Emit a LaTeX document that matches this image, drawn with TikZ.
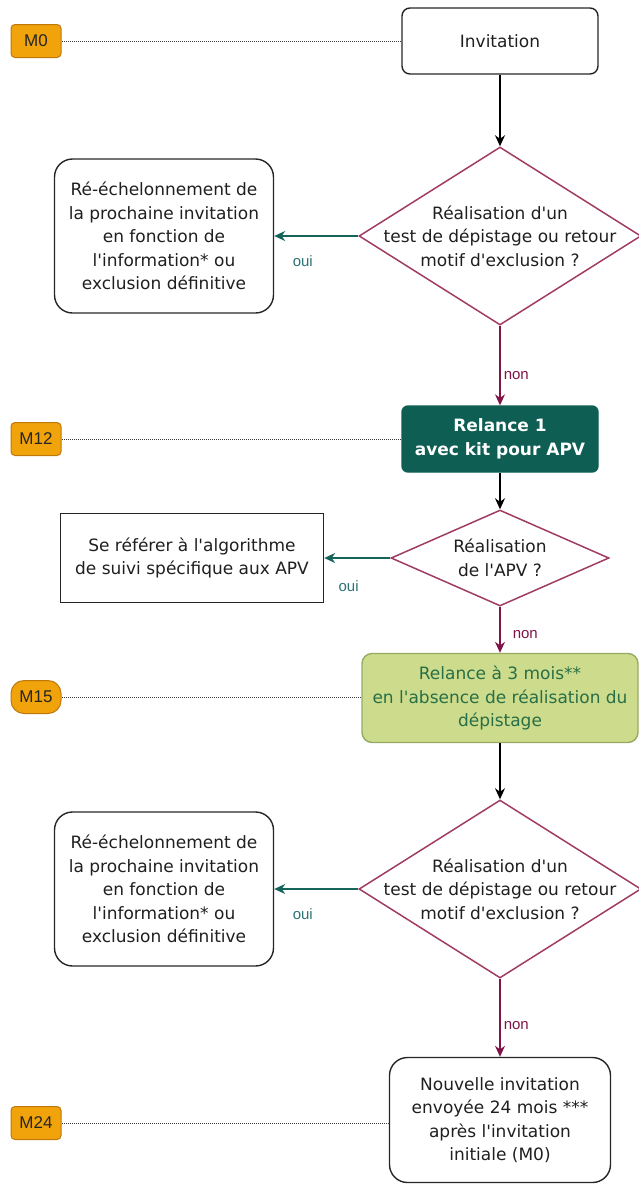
\documentclass[tikz,border=0pt]{standalone}
\usepackage{fontspec}
\setmainfont{DejaVu Sans}
\newfontfamily\tagfont{Liberation Sans}
\usetikzlibrary{shapes.geometric,arrows.meta}

\definecolor{tagfill}{RGB}{240,163,10}
\definecolor{tagline}{RGB}{190,120,10}
\definecolor{decline}{RGB}{160,60,100}
\definecolor{nonline}{RGB}{128,20,70}
\definecolor{ouiline}{RGB}{20,100,90}
\definecolor{ouitext}{RGB}{45,115,115}
\definecolor{relfill}{RGB}{14,94,84}
\definecolor{greenfill}{RGB}{205,220,140}
\definecolor{greenline}{RGB}{150,170,100}
\definecolor{greentext}{RGB}{40,110,70}

\newcommand{\ap}{\textquotesingle}

\begin{document}
\begin{tikzpicture}[x=1pt,y=-1pt,
    every node/.style={font=\fontsize{17}{23.5}\selectfont,text=black!88},
    tagbox/.style={draw=tagline,fill=tagfill,line width=1pt,rounded corners=4pt,
      minimum width=50pt,minimum height=33pt,inner sep=0pt,
      font=\tagfont\fontsize{17}{19}\selectfont,text=black!85},
    stepbox/.style={draw=black!85,line width=1.4pt,rounded corners=#1,
      align=center,inner sep=0pt},
    stepbox/.default=8pt,
    decbox/.style={diamond,draw=decline,line width=1.5pt,inner sep=0pt},
    dtext/.style={align=center,inner sep=0pt},
    timeline/.style={black!75,line width=1pt,dash pattern=on 1pt off 1pt},
    flow/.style={-{Stealth[length=11pt,width=10pt]},line width=1.5pt,black},
    nonarrow/.style={flow,nonline},
    ouiarrow/.style={flow,ouiline},
    nonlabel/.style={font=\tagfont\fontsize{15}{17}\selectfont,text=nonline,anchor=west,inner sep=0pt},
    ouilabel/.style={font=\tagfont\fontsize{15}{17}\selectfont,text=ouitext,inner sep=0pt}]

  \useasboundingbox (0,0) rectangle (638,1187);

  % time marks
  \node[tagbox] (m0) at (36,41) {M0};
  \node[tagbox] (m12) at (36,439) {M12};
  \node[tagbox,rounded corners=13pt] (m15) at (36,697) {M15};
  \node[tagbox] (m24) at (36,1123) {M24};

  % main column
  \node[stepbox,minimum width=196pt,minimum height=66pt] (inv) at (500,41) {Invitation};
  \node[decbox,minimum width=282pt,minimum height=178pt] (d1) at (500,236) {};
  \node[dtext] (d1t) at (d1) {Réalisation d\ap un\\test de dépistage ou retour\\motif d\ap exclusion ?};
  \node[stepbox=6pt,draw=relfill,fill=relfill,text=white,font=\bfseries\fontsize{17}{23.5}\selectfont,
    minimum width=196pt,minimum height=66pt] (rel) at (500,439) {Relance 1\\avec kit pour APV};
  \node[decbox,minimum width=218pt,minimum height=96pt] (d2) at (500,558) {};
  \node[dtext] (d2t) at (d2) {Réalisation\\de l\ap APV ?};
  \node[stepbox=10pt,draw=greenline,fill=greenfill,text=greentext,
    minimum width=276pt,minimum height=89pt] (rel3) at (500,698)
    {Relance à 3 mois**\\en l\ap absence de réalisation du\\dépistage};
  \node[decbox,minimum width=282pt,minimum height=178pt] (d3) at (500,889) {};
  \node[dtext] (d3t) at (d3) {Réalisation d\ap un\\test de dépistage ou retour\\motif d\ap exclusion ?};
  \node[stepbox=18pt,minimum width=221pt,minimum height=125pt] (new) at (500,1120)
    {Nouvelle invitation\\envoyée 24 mois ***\\après l\ap invitation\\initiale (M0)};

  % side boxes
  \node[stepbox=18pt,minimum width=219pt,minimum height=154pt] (res1) at (164,236)
    {Ré-échelonnement de\\la prochaine invitation\\en fonction de\\l\ap information* ou\\exclusion définitive};
  \node[stepbox=0pt,minimum width=263pt,minimum height=89pt] (apv) at (192,558)
    {Se référer à l\ap algorithme\\de suivi spécifique aux APV};
  \node[stepbox=18pt,minimum width=219pt,minimum height=154pt] (res2) at (164,889)
    {Ré-échelonnement de\\la prochaine invitation\\en fonction de\\l\ap information* ou\\exclusion définitive};

  % dotted time lines
  \foreach \t/\b in {m0/inv,m12/rel,m15/rel3,m24/new}
    \draw[timeline] (\t.east) -- (\t.east -| \b.west);

  % flow
  \draw[flow] (inv) -- (d1);
  \draw[nonarrow] (d1.south) -- node[nonlabel,pos=0.62,xshift=3pt] {non} (rel.north);
  \draw[ouiarrow] (d1.west) -- node[ouilabel,pos=0.66,below=19pt] {oui} (res1.east);
  \draw[flow] (rel) -- (d2);
  \draw[ouiarrow] (d2.west) -- node[ouilabel,pos=0.63,below=22pt] {oui} (apv.east);
  \draw[nonarrow] (d2.south) -- node[nonlabel,pos=0.6,xshift=12pt] {non} (rel3.north);
  \draw[flow] (rel3) -- (d3);
  \draw[ouiarrow] (d3.west) -- node[ouilabel,pos=0.66,below=19pt] {oui} (res2.east);
  \draw[nonarrow] (d3.south) -- node[nonlabel,pos=0.6,xshift=3pt] {non} (new.north);
\end{tikzpicture}
\end{document}
